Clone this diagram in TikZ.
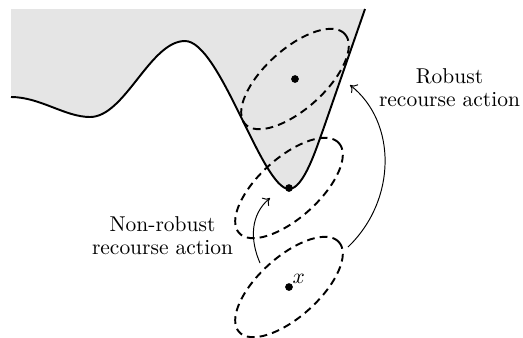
\documentclass[tikz,border=0pt]{standalone}
\usetikzlibrary{arrows.meta}
\begin{document}
\begin{tikzpicture}[x=0.466pt,y=-0.466pt,
  boundary/.style={line width=0.9pt},
  ell/.style={line width=0.9pt, dash pattern=on 3.6pt off 2.4pt},
  dotmark/.style={fill=black},
  move/.style={-{To[length=3pt,width=5pt]}, line width=0.45pt},
  lbl/.style={align=center, inner sep=0pt, anchor=north, font=\normalsize}]
\useasboundingbox (0,0) rectangle (523,337);
% feasible region
\fill[gray!20] (11,9) -- (11,97)
  .. controls (40,97) and (65,117) .. (90,117)
  .. controls (125,117) and (150,41) .. (185,41)
  .. controls (220,41) and (262,189) .. (289,189)
  .. controls (304,189) and (317,146) .. (323,130)
  -- (365,9) -- cycle;
\draw[boundary] (11,97)
  .. controls (40,97) and (65,117) .. (90,117)
  .. controls (125,117) and (150,41) .. (185,41)
  .. controls (220,41) and (262,189) .. (289,189)
  .. controls (304,189) and (317,146) .. (323,130)
  -- (365,9);
% points
\coordinate (p1) at (295,79);
\coordinate (p2) at (289,188);
\coordinate (x0) at (289,287);
\draw[ell, rotate around={42:(p1)}] (p1) ellipse [x radius=31.3pt, y radius=14pt];
\draw[ell, rotate around={42:(p2)}] (p2) ellipse [x radius=31.3pt, y radius=14pt];
\draw[ell, rotate around={42:(x0)}] (x0) ellipse [x radius=31.3pt, y radius=14pt];
\fill[dotmark] (p1) circle (1.8pt);
\fill[dotmark] (p2) circle (1.8pt);
\fill[dotmark] (x0) circle (1.8pt);
\node[anchor=south west, inner sep=1.5pt] (xl) at (x0) {$x$};
% arrows
\coordinate (rs) at (348,247);
\coordinate (re) at (350,85);
\coordinate (ns) at (260,263);
\coordinate (ne) at (270,198);
\draw[move] (rs) .. controls (397,200) and (397,122) .. (re);
\draw[move] (ns) .. controls (250,240) and (250,215) .. (ne);
% labels
\node[lbl] (rob) at (449.5,68) {Robust\\[-1pt]recourse action};
\node[lbl] (nrob) at (162.5,216) {Non-robust\\[-1pt]recourse action};
\end{tikzpicture}
\end{document}
